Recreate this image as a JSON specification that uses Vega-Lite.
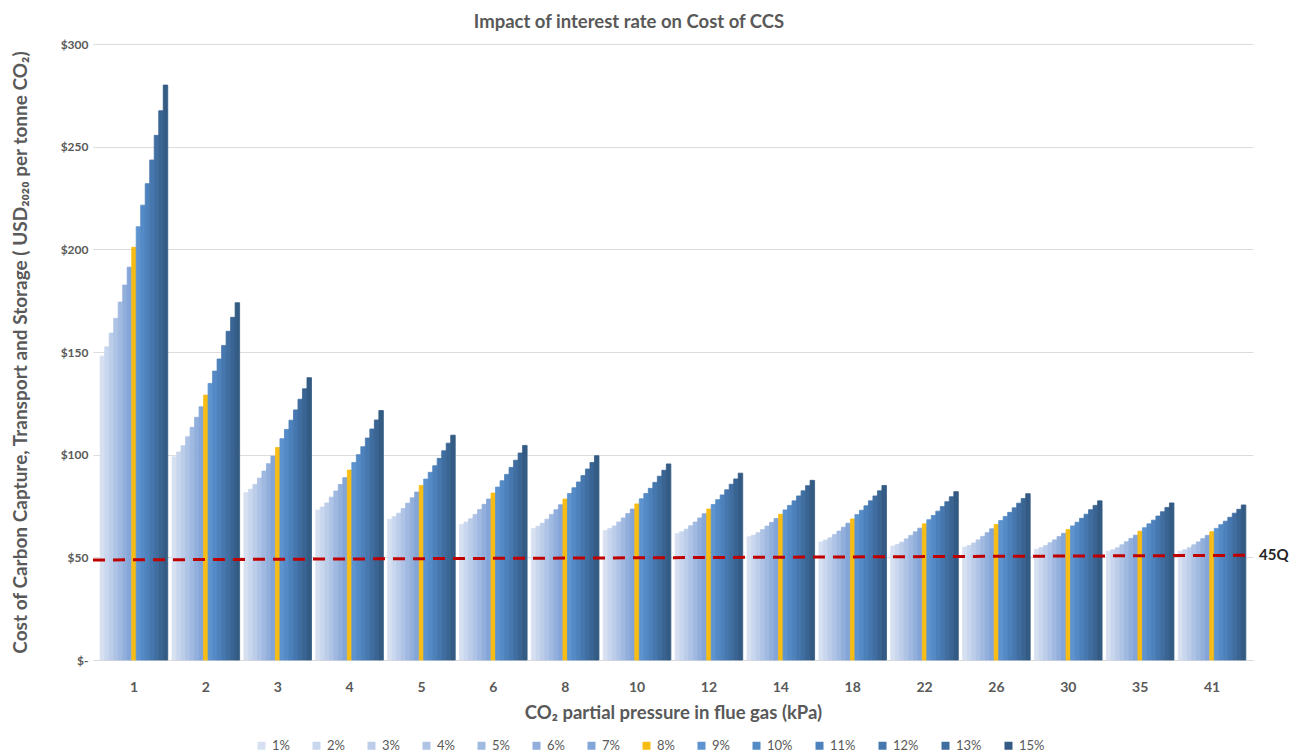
{
  "$schema": "https://vega.github.io/schema/vega-lite/v6.json",
  "width": 1160,
  "height": 616,
  "autosize": {"type": "none"},
  "padding": {"left": 93, "top": 44, "right": 40, "bottom": 96},
  "background": "white",
  "title": {"text": "Impact of interest rate on Cost of CCS", "anchor": "middle", "font": "Lato", "fontSize": 18.5, "fontWeight": "bold", "color": "#595959", "offset": 7, "dx": -44},
  "config": {"view": {"stroke": null}, "font": "Lato"},
  "datasets": {
    "bars": [
      {"p":"1","r":"1%","v":148},{"p":"1","r":"2%","v":152.5},{"p":"1","r":"3%","v":159.2},{"p":"1","r":"4%","v":166.4},{"p":"1","r":"5%","v":174.3},{"p":"1","r":"6%","v":182.6},{"p":"1","r":"7%","v":191.3},{"p":"1","r":"8%","v":201},{"p":"1","r":"9%","v":211},{"p":"1","r":"10%","v":221.5},{"p":"1","r":"11%","v":232},{"p":"1","r":"12%","v":243.5},{"p":"1","r":"13%","v":255.5},{"p":"1","r":"14%","v":267.5},{"p":"1","r":"15%","v":280},
      {"p":"2","r":"1%","v":99},{"p":"2","r":"2%","v":101.3},{"p":"2","r":"3%","v":104.4},{"p":"2","r":"4%","v":108.7},{"p":"2","r":"5%","v":113.3},{"p":"2","r":"6%","v":118.2},{"p":"2","r":"7%","v":123.3},{"p":"2","r":"8%","v":129},{"p":"2","r":"9%","v":134.7},{"p":"2","r":"10%","v":140.7},{"p":"2","r":"11%","v":146.6},{"p":"2","r":"12%","v":153.2},{"p":"2","r":"13%","v":160.1},{"p":"2","r":"14%","v":166.9},{"p":"2","r":"15%","v":174},
      {"p":"3","r":"1%","v":81.5},{"p":"3","r":"2%","v":83.2},{"p":"3","r":"3%","v":85.5},{"p":"3","r":"4%","v":88.6},{"p":"3","r":"5%","v":92},{"p":"3","r":"6%","v":95.6},{"p":"3","r":"7%","v":99.3},{"p":"3","r":"8%","v":103.5},{"p":"3","r":"9%","v":107.8},{"p":"3","r":"10%","v":112.3},{"p":"3","r":"11%","v":116.8},{"p":"3","r":"12%","v":121.8},{"p":"3","r":"13%","v":127},{"p":"3","r":"14%","v":132.1},{"p":"3","r":"15%","v":137.5},
      {"p":"4","r":"1%","v":73},{"p":"4","r":"2%","v":74.5},{"p":"4","r":"3%","v":76.5},{"p":"4","r":"4%","v":79.3},{"p":"4","r":"5%","v":82.3},{"p":"4","r":"6%","v":85.5},{"p":"4","r":"7%","v":88.8},{"p":"4","r":"8%","v":92.5},{"p":"4","r":"9%","v":96.2},{"p":"4","r":"10%","v":100},{"p":"4","r":"11%","v":103.9},{"p":"4","r":"12%","v":108.1},{"p":"4","r":"13%","v":112.5},{"p":"4","r":"14%","v":116.9},{"p":"4","r":"15%","v":121.5},
      {"p":"5","r":"1%","v":68.5},{"p":"5","r":"2%","v":69.8},{"p":"5","r":"3%","v":71.5},{"p":"5","r":"4%","v":73.8},{"p":"5","r":"5%","v":76.4},{"p":"5","r":"6%","v":79},{"p":"5","r":"7%","v":81.8},{"p":"5","r":"8%","v":85},{"p":"5","r":"9%","v":88.1},{"p":"5","r":"10%","v":91.4},{"p":"5","r":"11%","v":94.6},{"p":"5","r":"12%","v":98.2},{"p":"5","r":"13%","v":101.9},{"p":"5","r":"14%","v":105.6},{"p":"5","r":"15%","v":109.5},
      {"p":"6","r":"1%","v":66},{"p":"6","r":"2%","v":67.2},{"p":"6","r":"3%","v":68.8},{"p":"6","r":"4%","v":70.9},{"p":"6","r":"5%","v":73.3},{"p":"6","r":"6%","v":75.8},{"p":"6","r":"7%","v":78.4},{"p":"6","r":"8%","v":81.3},{"p":"6","r":"9%","v":84.2},{"p":"6","r":"10%","v":87.3},{"p":"6","r":"11%","v":90.4},{"p":"6","r":"12%","v":93.8},{"p":"6","r":"13%","v":97.3},{"p":"6","r":"14%","v":100.8},{"p":"6","r":"15%","v":104.5},
      {"p":"8","r":"1%","v":64},{"p":"8","r":"2%","v":65.1},{"p":"8","r":"3%","v":66.6},{"p":"8","r":"4%","v":68.6},{"p":"8","r":"5%","v":70.9},{"p":"8","r":"6%","v":73.2},{"p":"8","r":"7%","v":75.6},{"p":"8","r":"8%","v":78.4},{"p":"8","r":"9%","v":81.1},{"p":"8","r":"10%","v":83.9},{"p":"8","r":"11%","v":86.7},{"p":"8","r":"12%","v":89.8},{"p":"8","r":"13%","v":93},{"p":"8","r":"14%","v":96.2},{"p":"8","r":"15%","v":99.5},
      {"p":"10","r":"1%","v":63},{"p":"10","r":"2%","v":64},{"p":"10","r":"3%","v":65.3},{"p":"10","r":"4%","v":67.2},{"p":"10","r":"5%","v":69.2},{"p":"10","r":"6%","v":71.3},{"p":"10","r":"7%","v":73.5},{"p":"10","r":"8%","v":76},{"p":"10","r":"9%","v":78.5},{"p":"10","r":"10%","v":81.1},{"p":"10","r":"11%","v":83.6},{"p":"10","r":"12%","v":86.5},{"p":"10","r":"13%","v":89.5},{"p":"10","r":"14%","v":92.4},{"p":"10","r":"15%","v":95.5},
      {"p":"12","r":"1%","v":61.5},{"p":"12","r":"2%","v":62.4},{"p":"12","r":"3%","v":63.7},{"p":"12","r":"4%","v":65.4},{"p":"12","r":"5%","v":67.2},{"p":"12","r":"6%","v":69.2},{"p":"12","r":"7%","v":71.2},{"p":"12","r":"8%","v":73.5},{"p":"12","r":"9%","v":75.7},{"p":"12","r":"10%","v":78.1},{"p":"12","r":"11%","v":80.4},{"p":"12","r":"12%","v":82.9},{"p":"12","r":"13%","v":85.6},{"p":"12","r":"14%","v":88.2},{"p":"12","r":"15%","v":91},
      {"p":"14","r":"1%","v":60},{"p":"14","r":"2%","v":60.8},{"p":"14","r":"3%","v":62},{"p":"14","r":"4%","v":63.5},{"p":"14","r":"5%","v":65.2},{"p":"14","r":"6%","v":67},{"p":"14","r":"7%","v":68.9},{"p":"14","r":"8%","v":71},{"p":"14","r":"9%","v":73.1},{"p":"14","r":"10%","v":75.3},{"p":"14","r":"11%","v":77.5},{"p":"14","r":"12%","v":79.9},{"p":"14","r":"13%","v":82.4},{"p":"14","r":"14%","v":84.9},{"p":"14","r":"15%","v":87.5},
      {"p":"18","r":"1%","v":57.5},{"p":"18","r":"2%","v":58.4},{"p":"18","r":"3%","v":59.5},{"p":"18","r":"4%","v":61.1},{"p":"18","r":"5%","v":62.8},{"p":"18","r":"6%","v":64.7},{"p":"18","r":"7%","v":66.6},{"p":"18","r":"8%","v":68.7},{"p":"18","r":"9%","v":70.8},{"p":"18","r":"10%","v":72.9},{"p":"18","r":"11%","v":75.1},{"p":"18","r":"12%","v":77.5},{"p":"18","r":"13%","v":79.9},{"p":"18","r":"14%","v":82.4},{"p":"18","r":"15%","v":85},
      {"p":"22","r":"1%","v":55.5},{"p":"22","r":"2%","v":56.3},{"p":"22","r":"3%","v":57.4},{"p":"22","r":"4%","v":59},{"p":"22","r":"5%","v":60.7},{"p":"22","r":"6%","v":62.4},{"p":"22","r":"7%","v":64.2},{"p":"22","r":"8%","v":66.3},{"p":"22","r":"9%","v":68.3},{"p":"22","r":"10%","v":70.4},{"p":"22","r":"11%","v":72.5},{"p":"22","r":"12%","v":74.7},{"p":"22","r":"13%","v":77.1},{"p":"22","r":"14%","v":79.5},{"p":"22","r":"15%","v":82},
      {"p":"26","r":"1%","v":55},{"p":"26","r":"2%","v":55.8},{"p":"26","r":"3%","v":57},{"p":"26","r":"4%","v":58.5},{"p":"26","r":"5%","v":60.2},{"p":"26","r":"6%","v":62},{"p":"26","r":"7%","v":63.9},{"p":"26","r":"8%","v":66},{"p":"26","r":"9%","v":67.9},{"p":"26","r":"10%","v":69.9},{"p":"26","r":"11%","v":71.9},{"p":"26","r":"12%","v":74.1},{"p":"26","r":"13%","v":76.4},{"p":"26","r":"14%","v":78.6},{"p":"26","r":"15%","v":81},
      {"p":"30","r":"1%","v":54},{"p":"30","r":"2%","v":54.7},{"p":"30","r":"3%","v":55.7},{"p":"30","r":"4%","v":57.1},{"p":"30","r":"5%","v":58.5},{"p":"30","r":"6%","v":60.1},{"p":"30","r":"7%","v":61.7},{"p":"30","r":"8%","v":63.5},{"p":"30","r":"9%","v":65.3},{"p":"30","r":"10%","v":67.1},{"p":"30","r":"11%","v":69},{"p":"30","r":"12%","v":71},{"p":"30","r":"13%","v":73.2},{"p":"30","r":"14%","v":75.3},{"p":"30","r":"15%","v":77.5},
      {"p":"35","r":"1%","v":53},{"p":"35","r":"2%","v":53.7},{"p":"35","r":"3%","v":54.7},{"p":"35","r":"4%","v":56.1},{"p":"35","r":"5%","v":57.6},{"p":"35","r":"6%","v":59.2},{"p":"35","r":"7%","v":60.8},{"p":"35","r":"8%","v":62.7},{"p":"35","r":"9%","v":64.4},{"p":"35","r":"10%","v":66.3},{"p":"35","r":"11%","v":68.1},{"p":"35","r":"12%","v":70.1},{"p":"35","r":"13%","v":72.2},{"p":"35","r":"14%","v":74.3},{"p":"35","r":"15%","v":76.5},
      {"p":"41","r":"1%","v":53},{"p":"41","r":"2%","v":53.7},{"p":"41","r":"3%","v":54.7},{"p":"41","r":"4%","v":56.1},{"p":"41","r":"5%","v":57.5},{"p":"41","r":"6%","v":59.1},{"p":"41","r":"7%","v":60.7},{"p":"41","r":"8%","v":62.5},{"p":"41","r":"9%","v":64.1},{"p":"41","r":"10%","v":65.9},{"p":"41","r":"11%","v":67.6},{"p":"41","r":"12%","v":69.5},{"p":"41","r":"13%","v":71.5},{"p":"41","r":"14%","v":73.4},{"p":"41","r":"15%","v":75.5}
    ],
    "q45": [{"x0": 0, "x1": 1, "y0": 48.7, "y1": 51, "label": "45Q"}]
  },
  "layer": [
    {
      "data": {"name": "bars"},
      "mark": {"type": "bar", "strokeWidth": 0.8},
      "encoding": {
        "x": {
          "field": "p", "type": "nominal",
          "sort": ["1","2","3","4","5","6","8","10","12","14","18","22","26","30","35","41"],
          "scale": {"paddingInner": 0.06, "paddingOuter": 0.1},
          "axis": {
            "title": "CO₂ partial pressure in flue gas (kPa)",
            "labelAngle": 0, "ticks": false, "domain": true, "domainColor": "#d9d9d9",
            "labelPadding": 20, "labelFont": "Lato", "labelFontSize": 14, "labelFontWeight": "bold", "labelColor": "#595959",
            "titleFont": "Lato", "titleFontSize": 18.5, "titleFontWeight": "bold", "titleColor": "#595959", "titlePadding": 9
          }
        },
        "xOffset": {
          "field": "r", "type": "nominal",
          "sort": ["1%","2%","3%","4%","5%","6%","7%","8%","9%","10%","11%","12%","13%","14%","15%"],
          "scale": {"paddingInner": 0, "paddingOuter": 0}
        },
        "y": {
          "field": "v", "type": "quantitative",
          "scale": {"domain": [0, 300]},
          "axis": {
            "title": "Cost of Carbon Capture, Transport and Storage ( USD₂₀₂₀ per tonne CO₂)",
            "values": [0, 50, 100, 150, 200, 250, 300],
            "labelExpr": "datum.value == 0 ? '$-' : '$' + datum.value",
            "grid": true, "gridColor": "#dcdcdc", "gridWidth": 1,
            "domain": false, "ticks": false, "labelPadding": 5,
            "labelFont": "Lato", "labelFontSize": 12, "labelFontWeight": "bold", "labelColor": "#595959",
            "titleFont": "Lato", "titleFontSize": 19, "titleFontWeight": "bold", "titleColor": "#595959", "titlePadding": 30
          }
        },
        "color": {
          "field": "r", "type": "nominal",
          "scale": {
            "domain": ["1%","2%","3%","4%","5%","6%","7%","8%","9%","10%","11%","12%","13%","14%","15%"],
            "range": ["#d6e0f1","#c9d7ee","#bccdea","#aec3e5","#a0b9e1","#92afdc","#83a5d8","#f8bd14","#5d93cf","#548ac6","#4c81bb","#4677ae","#406ea1","#3a6593","#335b84"]
          },
          "legend": {
            "title": null,
            "values": ["1%","2%","3%","4%","5%","6%","7%","8%","9%","10%","11%","12%","13%","15%"],
            "orient": "none", "direction": "horizontal", "legendX": 162, "legendY": 695,
            "symbolType": "square", "symbolSize": 64, "symbolStrokeWidth": 0,
            "labelFont": "Lato", "labelFontSize": 13, "labelColor": "#595959", "labelOffset": 4, "columnPadding": 20
          }
        },
        "stroke": {
          "field": "r", "type": "nominal",
          "scale": {
            "domain": ["1%","2%","3%","4%","5%","6%","7%","8%","9%","10%","11%","12%","13%","14%","15%"],
            "range": ["#d6e0f1","#c9d7ee","#bccdea","#aec3e5","#a0b9e1","#92afdc","#83a5d8","#f8bd14","#5d93cf","#548ac6","#4c81bb","#4677ae","#406ea1","#3a6593","#335b84"]
          },
          "legend": null
        }
      }
    },
    {
      "data": {"name": "q45"},
      "mark": {"type": "rule", "color": "#c00000", "strokeWidth": 3, "strokeDash": [12, 8]},
      "encoding": {
        "x": {"field": "x0", "type": "quantitative", "scale": {"domain": [0, 1]}, "axis": null},
        "x2": {"field": "x1"},
        "y": {"field": "y0", "type": "quantitative"},
        "y2": {"field": "y1"}
      }
    },
    {
      "data": {"name": "q45"},
      "mark": {"type": "text", "align": "left", "dx": 6, "font": "Lato", "fontSize": 15, "fontWeight": "bold", "color": "#262626"},
      "encoding": {
        "x": {"field": "x1", "type": "quantitative", "scale": {"domain": [0, 1]}, "axis": null},
        "y": {"field": "y1", "type": "quantitative"},
        "text": {"field": "label"}
      }
    }
  ],
  "resolve": {"scale": {"x": "independent"}}
}
